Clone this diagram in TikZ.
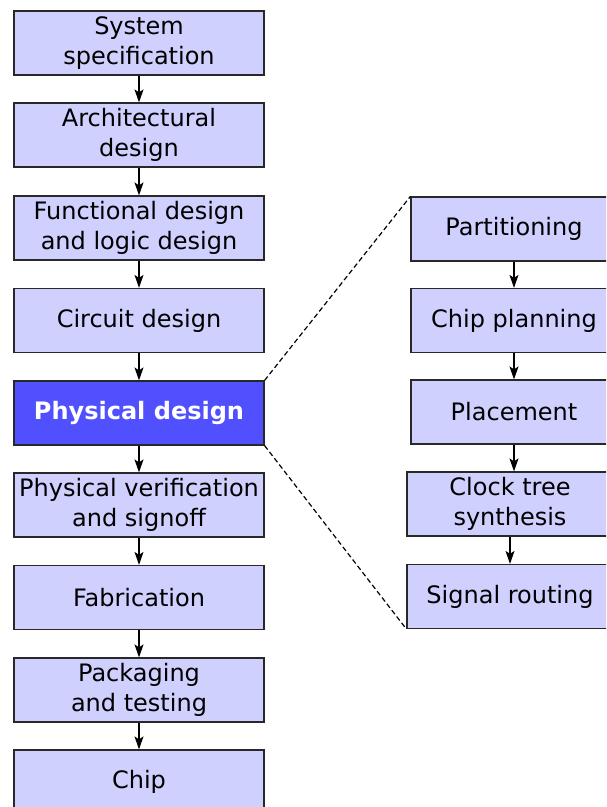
\documentclass[tikz,border=0pt]{standalone}
\usepackage{fontspec}
\setmainfont{DejaVu Sans}
\usetikzlibrary{arrows.meta}
\definecolor{stepfill}{RGB}{208,208,255}
\definecolor{mainfill}{RGB}{80,80,255}
\definecolor{edge}{RGB}{40,40,40}

\begin{document}
\begin{tikzpicture}[x=1pt, y=-1pt,
    every node/.style={font=\fontsize{24}{30}\selectfont, align=center},
    stage/.style={draw=edge, line width=1.2pt, fill=stepfill, minimum width=250pt, minimum height=64pt, inner sep=0pt},
    substage/.style={stage, minimum width=206pt},
    current/.style={stage, fill=mainfill, text=white, font=\fontsize{24}{30}\selectfont\bfseries},
    flow/.style={-{Stealth[length=13pt, width=9pt, inset=3pt]}, line width=1.2pt},
    zoomline/.style={line width=1.2pt, dash pattern=on 5pt off 3pt}]
    \useasboundingbox (0,0) rectangle (606,807);
    \clip (0,0) rectangle (606,807);
    \node[stage] (s1) at (139,43) {System\\specification};
    \node[stage] (s2) at (139,135) {Architectural\\design};
    \node[stage] (s3) at (139,228) {Functional design\\and logic design};
    \node[stage] (s4) at (139,320.5) {Circuit design};
    \node[current] (s5) at (139,413) {Physical design};
    \node[stage] (s6) at (139,505) {Physical verification\\and signoff};
    \node[stage] (s7) at (139,597.5) {Fabrication};
    \node[stage] (s8) at (139,690) {Packaging\\and testing};
    \node[stage] (s9) at (139,782) {Chip};
    \node[substage] (p1) at (514,229) {Partitioning};
    \node[substage] (p2) at (514,320.5) {Chip planning};
    \node[substage] (p3) at (514,412) {Placement};
    \node[substage] (p4) at (510,504) {Clock tree\\synthesis};
    \node[substage] (p5) at (510,596.5) {Signal routing};
    \foreach \a/\b in {s1/s2,s2/s3,s3/s4,s4/s5,s5/s6,s6/s7,s7/s8,s8/s9}
      \draw[flow] (\a) -- (\b);
    \draw[flow] (p1) -- (p2); \draw[flow] (p2) -- (p3);
    \draw[flow] (p3.south -| p3.center) -- (p4.north -| p3.center);
    \draw[flow] (p4) -- (p5);
    \draw[zoomline] (s5.north east) -- (p1.north west);
    \draw[zoomline] (s5.south east) -- (p5.south west);
  \end{tikzpicture}
\end{document}
